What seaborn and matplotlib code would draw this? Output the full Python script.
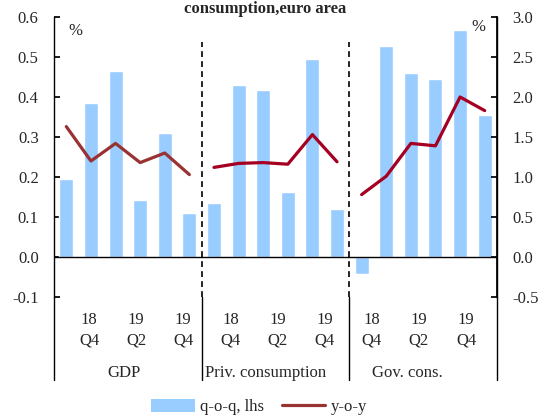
import pandas as pd
import matplotlib.pyplot as plt
import seaborn as sns
from matplotlib.patches import Patch
from matplotlib.lines import Line2D

sns.set_theme(style="white")
plt.rcParams["font.family"] = ["Liberation Serif", "DejaVu Serif"]
plt.rcParams["font.size"] = 12

# data
groups = ["GDP", "Priv. consumption", "Gov. cons."]
quarters = ["18Q3", "18Q4", "19Q1", "19Q2", "19Q3", "19Q4"]
gdp_qoq = [0.195, 0.385, 0.465, 0.143, 0.31, 0.11]
gdp_yoy = [1.63, 1.20, 1.42, 1.18, 1.30, 1.03]
priv_qoq = [0.134, 0.43, 0.418, 0.163, 0.494, 0.121]
priv_yoy = [1.12, 1.17, 1.18, 1.16, 1.53, 1.19]
gov_qoq = [-0.043, 0.528, 0.461, 0.444, 0.568, 0.355]
gov_yoy = [0.78, 1.01, 1.42, 1.39, 2.00, 1.83]
tick_top = ["18", "19", "19"]
tick_bottom = ["Q4", "Q2", "Q4"]

df = pd.DataFrame({
    "group": [g for g in groups for _ in quarters],
    "quarter": quarters * 3,
    "qoq": gdp_qoq + priv_qoq + gov_qoq,
    "yoy": gdp_yoy + priv_yoy + gov_yoy,
})
df["idx"] = range(len(df))

fig = plt.figure(figsize=(5.44, 4.19), dpi=100)
ax = fig.add_axes([0.0993, 0.2912, 0.8143, 0.6682])

sns.barplot(data=df, x="idx", y="qoq", color="#99CCFF", saturation=1,
            width=0.57, ax=ax)
ax.set_xlim(-0.5, 17.5)
ax.set_ylim(-0.1, 0.6)
ax.set_yticks([-0.1, 0, 0.1, 0.2, 0.3, 0.4, 0.5, 0.6])
ax.set_yticklabels([f"{v:.1f}" for v in ax.get_yticks()])
ax.set_xticks([])
ax.set_xlabel("")
ax.set_ylabel("")
ax.axhline(0, color="black", lw=1)
ax.spines["top"].set_visible(False)
ax.spines["bottom"].set_visible(False)
for s in ["left", "right"]:
    ax.spines[s].set_color("black")
    ax.spines[s].set_linewidth(1)
ax.tick_params(axis="y", direction="in", length=4, pad=11, labelsize=12,
               color="black", left=True)

ax2 = ax.twinx()
sns.lineplot(data=df, x="idx", y="yoy", hue="group", estimator=None,
             palette={"GDP": "#993333", "Priv. consumption": "#A50021",
                      "Gov. cons.": "#A50021"},
             lw=2.3, legend=False, ax=ax2)
ax2.set_xlim(-0.5, 17.5)
ax2.set_ylim(-0.5, 3.0)
ax2.set_yticks([-0.5, 0, 0.5, 1.0, 1.5, 2.0, 2.5, 3.0])
ax2.set_yticklabels([f"{v:.1f}" for v in ax2.get_yticks()])
ax2.set_xlabel("")
ax2.set_ylabel("")
for s in ["top", "bottom", "left"]:
    ax2.spines[s].set_visible(False)
ax2.spines["right"].set_color("black")
ax2.tick_params(axis="y", direction="in", length=4, pad=11, labelsize=12,
                color="black", right=True)

# group dividers
for x in [5.5, 11.5]:
    ax.plot([x, x], [-0.1, 0.5375], color="black", lw=1.2,
            linestyle=(0, (3.5, 2.5)))
ext = -0.296
trans = ax.get_xaxis_transform()
for x in [-0.5, 5.5, 11.5, 17.5]:
    ax.plot([x, x], [0, ext], color="black", lw=1, transform=trans,
            clip_on=False)

# category labels
def lab_x(x):
    return 0.9574 * x - 0.035

for gi, g in enumerate(groups):
    for k, s in enumerate([1, 3, 5]):
        x = lab_x(gi * 6 + s)
        ax.text(x, -0.082, tick_top[k], transform=trans, ha="center",
                va="center", fontsize=12)
        ax.text(x, -0.157, tick_bottom[k], transform=trans, ha="center",
                va="center", fontsize=12)
    ax.text(lab_x(gi * 6 + 2.5), -0.271, g, transform=trans, ha="center",
            va="center", fontsize=12)

fig.text(75 / 544, 1 - 31 / 419, "%", ha="center", va="center", fontsize=12)
fig.text(478 / 544, 1 - 27 / 419, "%", ha="center", va="center", fontsize=12)

fig.text(265 / 544, 1 - 1 / 419, "consumption,euro area", ha="center",
         va="top", fontsize=12, fontweight="bold")

handles = [Patch(facecolor="#99CCFF", edgecolor="none"),
           Line2D([], [], color="#993333", lw=2.3)]
fig.legend(handles, ["q-o-q, lhs", "y-o-y"], loc="center",
           bbox_to_anchor=(259 / 544, 1 - 407 / 419), ncol=2, frameon=False,
           fontsize=12, handlelength=2.6, handleheight=0.8,
           handletextpad=0.3, columnspacing=1.1)

fig.savefig("out.png", dpi=100)
